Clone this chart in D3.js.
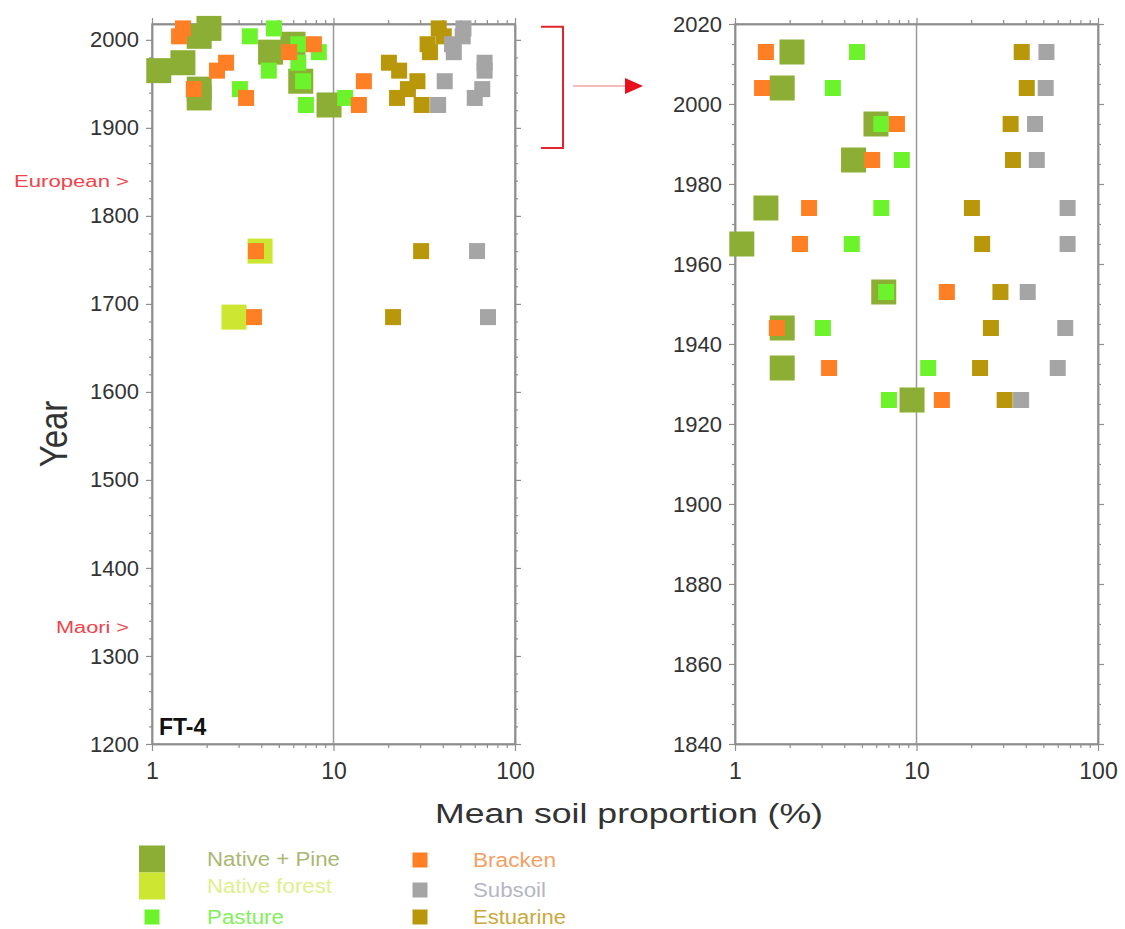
<!DOCTYPE html>
<html>
<head>
<meta charset="utf-8">
<script src="https://cdnjs.cloudflare.com/ajax/libs/d3/7.8.5/d3.min.js"></script>
<style>
  body { margin: 0; background: #fff; }
  svg { display: block; font-family: "Liberation Sans", Arial, sans-serif; }
</style>
</head>
<body>
<div id="chart"></div>
<script>
// values (mean soil proportion, %)
var years = [2013, 2004, 1995, 1986, 1974, 1965, 1953, 1944, 1934, 1926];
var nativePine = [2.06, 1.82, 5.98, 4.5, 1.48, 1.09, 6.6, 1.82, 1.82, 9.45];
var pasture = [4.7, 3.46, 6.4, 8.3, 6.4, 4.4, 6.8, 3.05, 11.6, 7.05];
var bracken = [1.48, 1.41, 7.8, 5.7, 2.56, 2.28, 14.7, 1.7, 3.3, 13.8];
var estuarine = [38, 40.5, 33, 34, 20.2, 23, 29, 25.7, 22.4, 30.6];
var subsoil = [52, 51.5, 45, 46, 68, 68, 41, 66, 60, 37.7];

var earlyYears = [1760, 1685];
var earlyNativeForest = [3.94, 2.83];
var earlyBracken = [3.74, 3.65];
var earlyEstuarine = [30.4, 21.3];
var earlySubsoil = [61.8, 71];

var xTicks = [1, 10, 100];
var leftYTicks = [1200, 1300, 1400, 1500, 1600, 1700, 1800, 1900, 2000];
var rightYTicks = [1840, 1860, 1880, 1900, 1920, 1940, 1960, 1980, 2000, 2020];

var visualisation = function(d3) {

    var width = 1125;
    var height = 929;
    var axisColor = "#8e8e8e";

    var series = [
        { name: "Native + Pine", color: "#8cae35", text: "#a9b872", size: 25, years: years, values: nativePine },
        { name: "Native forest", color: "#cce631", text: "#e0ef8c", size: 25, years: earlyYears, values: earlyNativeForest },
        { name: "Pasture", color: "#6cf32c", text: "#84ef5c", size: 16, years: years, values: pasture },
        { name: "Bracken", color: "#ff7f24", text: "#f4a064", size: 16, years: years.concat(earlyYears), values: bracken.concat(earlyBracken) },
        { name: "Estuarine", color: "#b9970b", text: "#c9a93c", size: 16, years: years.concat(earlyYears), values: estuarine.concat(earlyEstuarine) },
        { name: "Subsoil", color: "#a5a5a5", text: "#b6b6c2", size: 16, years: years.concat(earlyYears), values: subsoil.concat(earlySubsoil) }
    ];

    var xMinor = [];
    [1, 10].forEach(function(b) {
        d3.range(2, 10).forEach(function(k) { xMinor.push(b * k); });
    });

    function styleAxis(sel) {
        sel.select(".domain").attr("stroke", axisColor).attr("stroke-width", 1.5);
        sel.selectAll(".tick line").attr("stroke", axisColor).attr("stroke-width", 1.2);
        sel.selectAll(".tick text").attr("fill", "#333");
    }

    function drawPanel(svg, left, right, yDomain, yTicks, yStep, maxYear) {
        var top = 24, bottom = 744;
        var x = d3.scaleLog().domain([1, 100]).range([left, right]);
        var y = d3.scaleLinear().domain(yDomain).range([bottom, top]);
        var g = svg.append("g");

        var yMinor = d3.range(yTicks[0], yTicks[yTicks.length - 1] + 1, yStep)
            .filter(function(d) { return yTicks.indexOf(d) < 0; });

        g.append("rect")
            .attr("x", left).attr("y", top)
            .attr("width", right - left).attr("height", bottom - top)
            .attr("fill", "none").attr("stroke", axisColor).attr("stroke-width", 1.5);

        g.append("line")
            .attr("x1", x(10)).attr("x2", x(10))
            .attr("y1", top).attr("y2", bottom)
            .attr("stroke", "#9a9a9a").attr("stroke-width", 1.5);

        // bottom
        g.append("g").attr("transform", "translate(0," + bottom + ")")
            .call(d3.axisBottom(x).tickValues(xTicks).tickFormat(d3.format("d"))
                .tickSize(7).tickPadding(12).tickSizeOuter(0))
            .call(styleAxis)
            .selectAll("text").attr("font-size", 23);
        g.append("g").attr("transform", "translate(0," + bottom + ")")
            .call(d3.axisBottom(x).tickValues(xMinor).tickFormat("").tickSize(4).tickSizeOuter(0))
            .call(styleAxis);
        // top
        g.append("g").attr("transform", "translate(0," + top + ")")
            .call(d3.axisTop(x).tickValues(xTicks).tickFormat("").tickSize(6).tickSizeOuter(0))
            .call(styleAxis);
        g.append("g").attr("transform", "translate(0," + top + ")")
            .call(d3.axisTop(x).tickValues(xMinor).tickFormat("").tickSize(4).tickSizeOuter(0))
            .call(styleAxis);
        // left
        g.append("g").attr("transform", "translate(" + left + ",0)")
            .call(d3.axisLeft(y).tickValues(yTicks).tickFormat(d3.format("d"))
                .tickSize(6).tickPadding(7).tickSizeOuter(0))
            .call(styleAxis)
            .selectAll("text").attr("font-size", 22);
        g.append("g").attr("transform", "translate(" + left + ",0)")
            .call(d3.axisLeft(y).tickValues(yMinor).tickFormat("").tickSize(3).tickSizeOuter(0))
            .call(styleAxis);
        // right
        g.append("g").attr("transform", "translate(" + right + ",0)")
            .call(d3.axisRight(y).tickValues(yTicks).tickFormat("").tickSize(6).tickSizeOuter(0))
            .call(styleAxis);
        g.append("g").attr("transform", "translate(" + right + ",0)")
            .call(d3.axisRight(y).tickValues(yMinor).tickFormat("").tickSize(3).tickSizeOuter(0))
            .call(styleAxis);

        series.forEach(function(s) {
            var pts = s.values.map(function(v, i) { return { v: v, year: s.years[i] }; })
                .filter(function(d) { return d.year >= yDomain[0] && d.year <= maxYear; });
            g.append("g").selectAll("rect")
                .data(pts)
                .enter()
                .append("rect")
                .attr("x", function(d) { return x(d.v) - s.size / 2; })
                .attr("y", function(d) { return y(d.year) - s.size / 2; })
                .attr("width", s.size)
                .attr("height", s.size)
                .attr("fill", s.color);
        });

        return { x: x, y: y, g: g };
    }

    function draw() {
        var svg = d3.select("#chart").append("svg")
            .attr("width", width)
            .attr("height", height);

        var L = drawPanel(svg, 152, 515, [1200, 2018], leftYTicks, 20, 2020);
        drawPanel(svg, 735, 1098, [1840, 2020], rightYTicks, 5, 2020);

        // panel tag
        svg.append("text")
            .attr("x", 159).attr("y", 735)
            .attr("font-size", 23).attr("font-weight", "bold").attr("fill", "#111")
            .text("FT-4");

        // settlement markers
        [["European >", 1840], ["Maori >", 1333]].forEach(function(m) {
            svg.append("text")
                .attr("x", 129).attr("y", L.y(m[1]) + 6)
                .attr("text-anchor", "end")
                .attr("font-size", 16)
                .attr("fill", "#f0434b")
                .attr("textLength", m[0] === "Maori >" ? 73 : 115)
                .attr("lengthAdjust", "spacingAndGlyphs")
                .text(m[0]);
        });

        // bracket + arrow
        var bx = 563, bTop = L.y(2015), bBot = L.y(1877), ay = L.y(1947.5);
        svg.append("path")
            .attr("d", "M541," + bTop + "H" + bx + "V" + bBot + "H541")
            .attr("fill", "none").attr("stroke", "#e2262e").attr("stroke-width", 2);
        svg.append("line")
            .attr("x1", 573).attr("x2", 626).attr("y1", ay).attr("y2", ay)
            .attr("stroke", "#f2a3a6").attr("stroke-width", 1.5);
        svg.append("path")
            .attr("d", "M625," + (ay - 8) + "L643," + ay + "L625," + (ay + 8) + "Z")
            .attr("fill", "#e8101c");

        // axis titles
        svg.append("text")
            .attr("transform", "translate(67,434) scale(1.2,1) rotate(-90)")
            .attr("text-anchor", "middle")
            .attr("font-size", 33).attr("fill", "#333")
            .text("Year");
        svg.append("text")
            .attr("x", 435).attr("y", 823)
            .attr("font-size", 27).attr("fill", "#333")
            .attr("textLength", 388).attr("lengthAdjust", "spacingAndGlyphs")
            .text("Mean soil proportion (%)");

        // legend
        var legendSlots = [
            { s: 0, cx: 152, cy: 859, tx: 207, len: 133 },
            { s: 1, cx: 152, cy: 886, tx: 207, len: 125 },
            { s: 2, cx: 152, cy: 917, tx: 207, len: 77 },
            { s: 3, cx: 420, cy: 860, tx: 473, len: 83 },
            { s: 5, cx: 420, cy: 890, tx: 473, len: 73 },
            { s: 4, cx: 420, cy: 917, tx: 473, len: 93 }
        ];
        var leg = svg.append("g").selectAll("g")
            .data(legendSlots)
            .enter()
            .append("g");
        leg.append("rect")
            .attr("x", function(d) { var sz = series[d.s].size > 20 ? 26 : 15; return d.cx - sz / 2; })
            .attr("y", function(d) { var sz = series[d.s].size > 20 ? 27 : 15; return d.cy - sz / 2; })
            .attr("width", function(d) { return series[d.s].size > 20 ? 26 : 15; })
            .attr("height", function(d) { return series[d.s].size > 20 ? 27 : 15; })
            .attr("fill", function(d) { return series[d.s].color; });
        leg.append("text")
            .attr("x", function(d) { return d.tx; })
            .attr("y", function(d) { return d.cy + 7; })
            .attr("font-size", 20)
            .attr("textLength", function(d) { return d.len; })
            .attr("lengthAdjust", "spacingAndGlyphs")
            .attr("fill", function(d) { return series[d.s].text; })
            .text(function(d) { return series[d.s].name; });
    }

    return {
        show: function() {
            draw();
        }
    };
}(d3);

visualisation.show();
</script>
</body>
</html>
